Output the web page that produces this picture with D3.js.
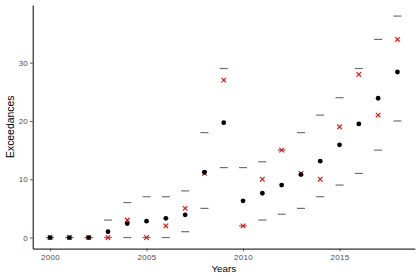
<!DOCTYPE html>
<html>
<head>
<meta charset="utf-8">
<script src="https://cdn.jsdelivr.net/npm/d3@7"></script>
<style>
  body { margin: 0; background: #fff; }
  svg { display: block; font-family: "Liberation Sans", Arial, sans-serif; }
</style>
</head>
<body>
<div id="wrapper"></div>
<script>
// values
var years    = [2000, 2001, 2002, 2003, 2004, 2005, 2006, 2007, 2008, 2009, 2010, 2011, 2012, 2013, 2014, 2015, 2016, 2017, 2018]
var expected = [0, 0, 0, 1.0, 2.4, 2.8, 3.3, 3.9, 11.2, 19.7, 6.3, 7.6, 9.0, 10.8, 13.1, 15.9, 19.5, 23.9, 28.4]
var observed = [0, 0, 0, 0, 3, 0, 2, 5, 11, 27, 2, 10, 15, 11, 10, 19, 28, 21, 34]
var upper    = [0, 0, 0, 3, 6, 7, 7, 8, 18, 29, 12, 13, 15, 18, 21, 24, 29, 34, 38]
var lower    = [0, 0, 0, 0, 0, 0, 0, 1, 5, 12, 2, 3, 4, 5, 7, 9, 11, 15, 20]

var xTicks = [2000, 2005, 2010, 2015]
var yTicks = [0, 10, 20, 30]

var data = years.map((y, i) => ({
    year: y,
    exp: expected[i],
    obs: observed[i],
    hi: upper[i],
    lo: lower[i]
}))

var margin = { top: 5, right: 5.2, bottom: 31.4, left: 32.7 },
    width = 420 - margin.left - margin.right,
    height = 280 - margin.top - margin.bottom

const svg = d3.select("#wrapper")
    .append("svg")
    .attr("width", 420)
    .attr("height", 280)

const bounds = svg.append("g")
    .attr("transform", "translate(" + margin.left + "," + margin.top + ")")

// ggplot style 5% padding
var xScale = d3.scaleLinear()
    .domain([1999.1, 2018.9])
    .range([0, width])

var yScale = d3.scaleLinear()
    .domain([-1.9, 39.9])
    .range([height, 0])

var xAxis = bounds.append("g")
    .attr("transform", "translate(0," + height + ")")
    .call(d3.axisBottom(xScale).tickValues(xTicks).tickFormat(d3.format("d"))
        .tickSizeInner(2.7).tickSizeOuter(0).tickPadding(3.3))

var yAxis = bounds.append("g")
    .call(d3.axisLeft(yScale).tickValues(yTicks)
        .tickSizeInner(2.7).tickSizeOuter(0).tickPadding(2.3))

xAxis.select(".domain").attr("stroke", "#000").attr("stroke-width", 1)
yAxis.select(".domain").attr("stroke", "#000").attr("stroke-width", 1)
svg.selectAll(".tick line").attr("stroke", "#333").attr("stroke-width", 0.8)
svg.selectAll(".tick text")
    .attr("fill", "#4d4d4d")
    .style("font-size", "8px")
xAxis.selectAll(".tick text").style("letter-spacing", "0.3px")

// interval ends
var dashW = 4
bounds.selectAll(".hi")
    .data(data)
    .join("line")
    .attr("x1", d => xScale(d.year) - dashW)
    .attr("x2", d => xScale(d.year) + dashW)
    .attr("y1", d => yScale(d.hi))
    .attr("y2", d => yScale(d.hi))
    .attr("stroke", "#707070")
    .attr("stroke-width", 1.2)

bounds.selectAll(".lo")
    .data(data)
    .join("line")
    .attr("x1", d => xScale(d.year) - dashW)
    .attr("x2", d => xScale(d.year) + dashW)
    .attr("y1", d => yScale(d.lo))
    .attr("y2", d => yScale(d.lo))
    .attr("stroke", "#707070")
    .attr("stroke-width", 1.2)

// observed crosses
var c = 2.3
bounds.selectAll(".obs")
    .data(data)
    .join("path")
    .attr("d", d => {
        var x = xScale(d.year), y = yScale(d.obs)
        return `M${x - c},${y - c}L${x + c},${y + c}M${x - c},${y + c}L${x + c},${y - c}`
    })
    .attr("stroke", "#ff0000")
    .attr("stroke-width", 1.1)
    .attr("fill", "none")

// expected points
bounds.selectAll(".exp")
    .data(data)
    .join("circle")
    .attr("cx", d => xScale(d.year))
    .attr("cy", d => yScale(d.exp))
    .attr("r", 2.4)
    .attr("fill", "#000")

// axis titles
svg.append("text")
    .attr("x", margin.left + width / 2)
    .attr("y", 272.3)
    .attr("text-anchor", "middle")
    .style("font-size", "9.8px")
    .text("Years")

svg.append("text")
    .attr("transform", "translate(14," + (margin.top + height / 2) + ") rotate(-90)")
    .attr("text-anchor", "middle")
    .style("font-size", "10.4px")
    .text("Exceedances")
</script>
</body>
</html>
